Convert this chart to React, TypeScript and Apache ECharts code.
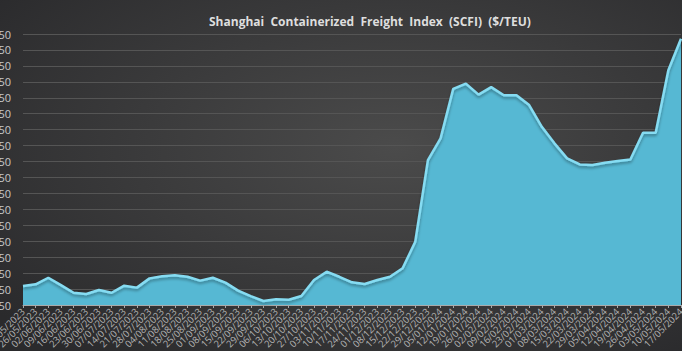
import React, { useEffect, useRef } from "react";
import * as echarts from "echarts";

const titleText = "Shanghai  Containerized  Freight  Index  (SCFI)  ($/TEU)";

const dates = [
  "19/05/2023", "26/05/2023", "02/06/2023", "09/06/2023", "16/06/2023", "23/06/2023",
  "30/06/2023", "07/07/2023", "14/07/2023", "21/07/2023", "28/07/2023", "04/08/2023",
  "11/08/2023", "18/08/2023", "25/08/2023", "01/09/2023", "08/09/2023", "15/09/2023",
  "22/09/2023", "29/09/2023", "06/10/2023", "13/10/2023", "20/10/2023", "27/10/2023",
  "03/11/2023", "10/11/2023", "17/11/2023", "24/11/2023", "01/12/2023", "08/12/2023",
  "15/12/2023", "22/12/2023", "29/12/2023", "05/01/2024", "12/01/2024", "19/01/2024",
  "26/01/2024", "02/02/2024", "09/02/2024", "16/02/2024", "23/02/2024", "01/03/2024",
  "08/03/2024", "15/03/2024", "22/03/2024", "29/03/2024", "05/04/2024", "12/04/2024",
  "19/04/2024", "26/04/2024", "03/05/2024", "10/05/2024", "17/05/2024",
];

const scfi = [
  969, 980, 1021, 975, 927, 919, 944, 927, 971, 959, 1017, 1030,
  1036, 1027, 1003, 1021, 990, 940, 906, 875, 886, 883, 906, 1007,
  1059, 1027, 992, 982, 1007, 1027, 1080, 1247, 1759, 1895, 2206, 2239,
  2170, 2217, 2166, 2166, 2104, 1968, 1864, 1770, 1732, 1728, 1742, 1753,
  1763, 1930, 1930, 2323, 2520,
];

const yMin = 850;
const yMax = 2550;
const yStep = 100;

export default function App() {
  const ref = useRef<HTMLDivElement>(null);
  useEffect(() => {
    if (!ref.current) return;
    const chart = echarts.init(ref.current, undefined, { renderer: "svg" });
    chart.setOption({
      animation: false,
      backgroundColor: {
        type: "radial",
        x: 0.58,
        y: 0.42,
        r: 0.75,
        colorStops: [
          { offset: 0, color: "#4b4b4b" },
          { offset: 1, color: "#2a2a2c" },
        ],
      },
      title: {
        text: titleText,
        left: 204,
        top: 10,
        textStyle: {
          color: "#dedede",
          fontFamily: "Open Sans",
          fontWeight: "bold",
          fontSize: 12,
        },
      },
      grid: { left: 23, right: 1, top: 34, bottom: 46, containLabel: false, outerBoundsMode: "none" },
      xAxis: {
        type: "category",
        data: dates,
        boundaryGap: false,
        axisLine: { lineStyle: { color: "#a9a9a9", width: 1 } },
        axisTick: { show: true, length: 3, alignWithLabel: true, lineStyle: { color: "#a9a9a9" }, interval: 0 },
        axisLabel: {
          interval: 0,
          rotate: 45,
          color: "#b4b4b4",
          fontFamily: "Open Sans",
          fontSize: 9.5,
          margin: 5,
          hideOverlap: false,
        },
        splitLine: { show: false },
      },
      yAxis: {
        type: "value",
        min: yMin,
        max: yMax,
        interval: yStep,
        axisLine: { show: false },
        axisTick: { show: false },
        axisLabel: {
          color: "#c8c8c8",
          fontFamily: "Open Sans",
          fontSize: 11,
          margin: 12,
          formatter: (v: number) => String(v),
        },
        splitLine: { lineStyle: { color: "#555555", width: 1 } },
      },
      series: [
        {
          type: "line",
          data: scfi,
          symbol: "none",
          lineStyle: {
            color: "#86dcf2",
            width: 2.5,
            shadowColor: "rgba(0,0,0,0.35)",
            shadowBlur: 3,
            shadowOffsetY: 2,
          },
          areaStyle: { color: "#56b8d3", opacity: 1 },
        },
      ],
    });
    return () => chart.dispose();
  }, []);
  return <div ref={ref} style={{ width: 682, height: 351, position: "absolute", left: 0, top: 0 }} />;
}
